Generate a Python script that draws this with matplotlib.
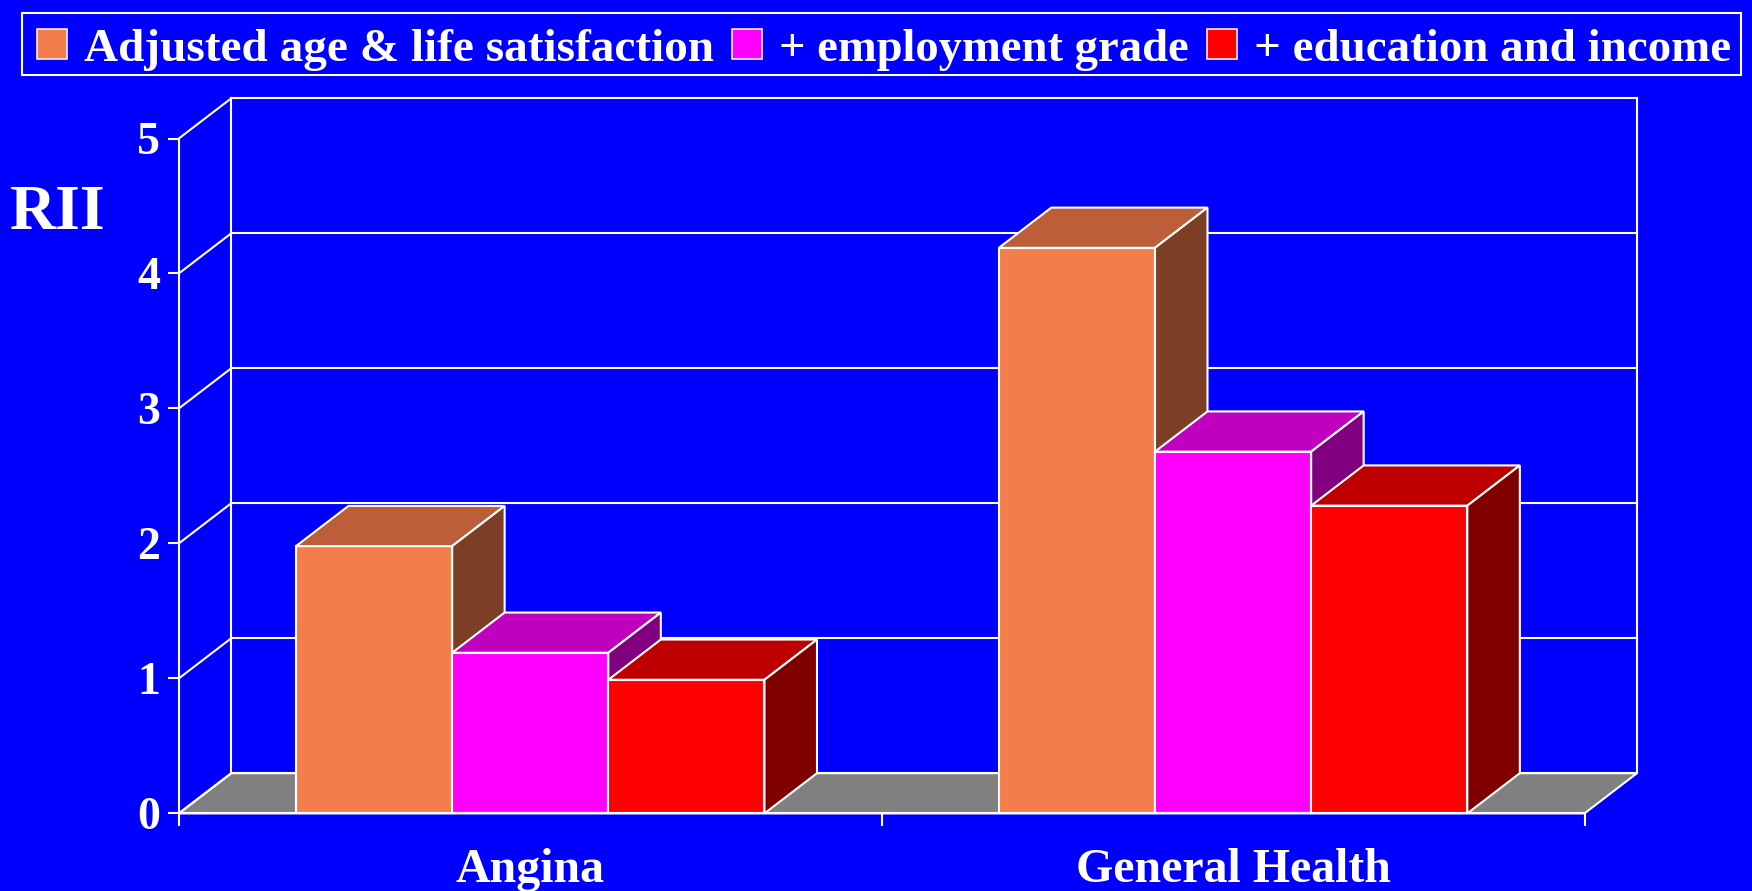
import matplotlib
matplotlib.use("Agg")
import matplotlib.pyplot as plt
from matplotlib.patches import Polygon, Patch, Rectangle

# ---- data ----
categories = ["Angina", "General Health"]
series_names = ["Adjusted age & life satisfaction", "+ employment grade", "+ education and income"]
angina_vals = [1.98, 1.19, 0.99]
general_health_vals = [4.19, 2.68, 2.28]
y_ticks = [0, 1, 2, 3, 4, 5]
y_label = "RII"

values = [angina_vals, general_health_vals]

# ---- style ----
BG = "#0000FF"
front_cols = ["#F37E4C", "#FF00FF", "#FF0000"]
top_cols = ["#BC5E38", "#BF00BF", "#BE0000"]
side_cols = ["#7C3F25", "#800080", "#800000"]
FLOOR = "#808080"
FONT = ["Liberation Serif", "DejaVu Serif"]

DX, DY = 0.0747, 0.298      # depth offsets in data units
BAR_W = 0.2222
MARGIN = 0.1667
LW = 1.5

W, H = 1752, 891
fig = plt.figure(figsize=(W / 100, H / 100), dpi=100, facecolor=BG)
left_px, right_px = 178.8, 1584.5
zero_px, five_px = 813.4, 138.5
ax = fig.add_axes([left_px / W, 1 - zero_px / H, (right_px - left_px) / W, (zero_px - five_px) / H])
ax.set_facecolor("none")
ax.set_xlim(0, 2)
ax.set_ylim(0, 5)

# floor
ax.add_patch(Polygon([(0, 0), (2, 0), (2 + DX, DY), (DX, DY)], closed=True,
                     facecolor=FLOOR, edgecolor="white", lw=LW, zorder=1, clip_on=False))
# back wall gridlines and side-wall diagonals
for v in y_ticks:
    ax.plot([DX, 2 + DX], [v + DY, v + DY], color="white", lw=LW, zorder=1.2, clip_on=False)
    ax.plot([0, DX], [v, v + DY], color="white", lw=LW, zorder=1.2, clip_on=False)
ax.plot([DX, DX], [DY, y_ticks[-1] + DY], color="white", lw=LW, zorder=1.2, clip_on=False)
ax.plot([2 + DX, 2 + DX], [DY, y_ticks[-1] + DY], color="white", lw=LW, zorder=1.2, clip_on=False)

# 3D bars
z = 3
for i, vals in enumerate(values):
    for j, h in enumerate(vals):
        x0 = i + MARGIN + j * BAR_W
        x1 = x0 + BAR_W
        ax.add_patch(Polygon([(x0, 0), (x1, 0), (x1, h), (x0, h)], closed=True,
                             facecolor=front_cols[j], edgecolor="white", lw=LW, zorder=z, clip_on=False))
        ax.add_patch(Polygon([(x0, h), (x1, h), (x1 + DX, h + DY), (x0 + DX, h + DY)], closed=True,
                             facecolor=top_cols[j], edgecolor="white", lw=LW, zorder=z, clip_on=False))
        ax.add_patch(Polygon([(x1, 0), (x1 + DX, DY), (x1 + DX, h + DY), (x1, h)], closed=True,
                             facecolor=side_cols[j], edgecolor="white", lw=LW, zorder=z, clip_on=False))
        z += 0.1

# axes spines & ticks
for s in ["top", "right"]:
    ax.spines[s].set_visible(False)
for s in ["left", "bottom"]:
    ax.spines[s].set_color("white")
    ax.spines[s].set_linewidth(LW)
    ax.spines[s].set_zorder(10)
ax.set_yticks(y_ticks)
ax.set_yticklabels([str(t) for t in y_ticks])
ax.set_xticks([0, 1, 2])
ax.set_xticklabels([])
ax.tick_params(axis="y", colors="white", length=8, width=LW, pad=5.5, labelsize=33)
ax.tick_params(axis="x", colors="white", length=9.5, width=LW)
for lab in ax.get_yticklabels():
    lab.set_fontfamily(FONT)
    lab.set_fontweight("bold")

# category labels
for i, c in enumerate(categories):
    ax.text(i + 0.5, -68.6 / (zero_px - five_px), c, transform=ax.get_xaxis_transform(),
            ha="center", va="baseline", color="white", fontsize=34.5, fontweight="bold",
            family=FONT, clip_on=False)

# RII label
fig.text(58 / W, 1 - 229 / H, y_label, ha="center", va="baseline", color="white",
         fontsize=46, fontweight="bold", family=FONT)

# legend frame (drawn separately) and legend entries
fig.add_artist(Rectangle((22 / W, 1 - 75 / H), (1741 - 22) / W, 62 / H, transform=fig.transFigure,
                         fill=False, edgecolor="white", lw=LW))
handles = [Patch(facecolor=front_cols[k], edgecolor="#FFE8E8", lw=1.2) for k in range(3)]
leg = fig.legend(handles, series_names, loc="upper left", bbox_to_anchor=(37 / W, 1 - 29 / H),
                 ncol=3, frameon=False, borderaxespad=0, borderpad=0,
                 handlelength=0.64, handleheight=0.6, handletextpad=0.36, columnspacing=0.38,
                 prop={"family": FONT, "weight": "bold", "size": 34})
texts = leg.get_texts()
for t in texts:
    t.set_color("white")
texts[1].set_fontsize(33.6)
texts[2].set_fontsize(33.8)

fig.savefig("out.png", dpi=100, facecolor=BG)
